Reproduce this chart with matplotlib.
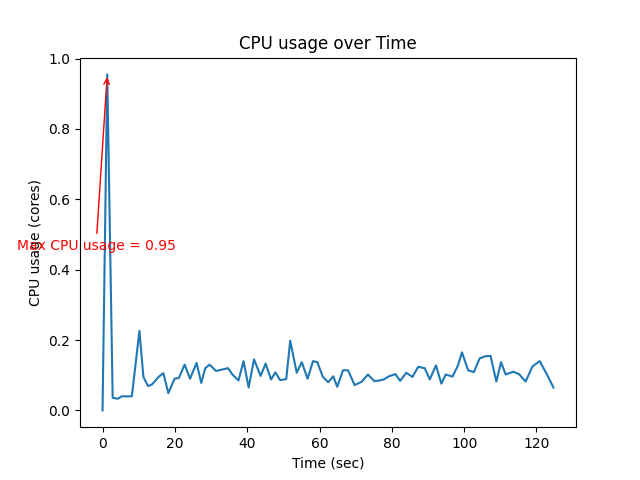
import numpy as np
import matplotlib
matplotlib.use('Agg')
import matplotlib.pyplot as plt

# time stamps (sec) and cpu usage (cores)
t = [0.0, 1.3, 2.8, 4.2, 5.3, 6.7, 8.1, 10.2, 11.3, 12.6, 13.7, 15.5, 16.8, 18.2,
     19.9, 21.1, 22.7, 24.2, 26.0, 27.3, 28.4, 29.6, 31.4, 33.0, 34.7, 36.0,
     37.6, 39.0, 40.4, 41.9, 43.7, 45.1, 46.6, 47.8, 49.1, 50.8, 51.9, 53.7,
     55.1, 56.7, 58.2, 59.4, 60.9, 62.4, 63.8, 64.9, 66.5, 67.9, 69.7, 71.6,
     73.4, 75.2, 76.5, 77.8, 79.2, 81.0, 82.3, 84.0, 85.7, 87.3, 89.1, 90.5,
     92.2, 93.7, 94.9, 96.8, 98.3, 99.4, 101.1, 102.7, 104.3, 105.9, 107.3,
     108.9, 110.2, 111.5, 113.6, 115.2, 117.0, 118.9, 120.9, 122.8, 124.7]
cpu = [0.0, 0.955, 0.036, 0.033, 0.04, 0.04, 0.04, 0.226, 0.095, 0.069, 0.074,
       0.095, 0.106, 0.049, 0.09, 0.092, 0.13, 0.09, 0.135, 0.078, 0.12, 0.13,
       0.112, 0.116, 0.12, 0.101, 0.085, 0.14, 0.065, 0.145, 0.098, 0.133,
       0.088, 0.108, 0.086, 0.089, 0.198, 0.107, 0.137, 0.09, 0.14, 0.137,
       0.096, 0.08, 0.097, 0.067, 0.114, 0.114, 0.072, 0.081, 0.102, 0.083,
       0.085, 0.088, 0.097, 0.103, 0.084, 0.107, 0.095, 0.124, 0.12, 0.088,
       0.128, 0.076, 0.102, 0.096, 0.128, 0.165, 0.114, 0.109, 0.148, 0.154,
       0.155, 0.082, 0.137, 0.102, 0.11, 0.103, 0.082, 0.125, 0.14, 0.104,
       0.065]

t = np.array(t)
cpu = np.array(cpu)
i_max = np.argmax(cpu)

fig, ax = plt.subplots(figsize=(6.4, 4.8), dpi=100)
ax.plot(t, cpu)
ax.annotate('Max CPU usage = %.2f' % cpu[i_max],
            xy=(t[i_max], cpu[i_max]), xytext=(t[i_max] - 3.1, 0.456),
            ha='center', color='red',
            arrowprops=dict(arrowstyle='->', color='red'))
ax.set_title('CPU usage over Time')
ax.set_xlabel('Time (sec)')
ax.set_ylabel('CPU usage (cores)')
fig.savefig('out.png')
